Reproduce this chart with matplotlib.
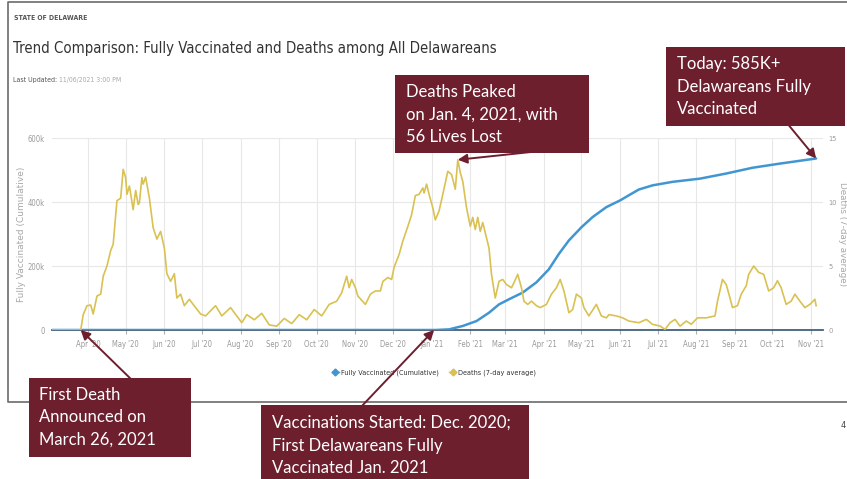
import matplotlib
matplotlib.use('Agg')
import matplotlib.pyplot as plt
import matplotlib.dates as mdates
from matplotlib.patches import Rectangle
from matplotlib.lines import Line2D
import pandas as pd

plt.rcParams['font.family'] = ['DejaVu Sans']
plt.rcParams['font.stretch'] = 'condensed'

# ---------------- data ----------------
death_dates = ['2020-03-03', '2020-03-26', '2020-03-28', '2020-03-31', '2020-04-03', '2020-04-05',
               '2020-04-08', '2020-04-11', '2020-04-13', '2020-04-16', '2020-04-19', '2020-04-21',
               '2020-04-24', '2020-04-27', '2020-04-29', '2020-05-01', '2020-05-02', '2020-05-04',
               '2020-05-07', '2020-05-09', '2020-05-11', '2020-05-12', '2020-05-14', '2020-05-15',
               '2020-05-17', '2020-05-20', '2020-05-23', '2020-05-26', '2020-05-29', '2020-06-01',
               '2020-06-03', '2020-06-06', '2020-06-09', '2020-06-11', '2020-06-14', '2020-06-17',
               '2020-06-21', '2020-06-26', '2020-06-30', '2020-07-04', '2020-07-12', '2020-07-17',
               '2020-07-24', '2020-08-02', '2020-08-06', '2020-08-12', '2020-08-18', '2020-08-24',
               '2020-08-30', '2020-09-05', '2020-09-11', '2020-09-17', '2020-09-23', '2020-09-29',
               '2020-10-05', '2020-10-11', '2020-10-17', '2020-10-21', '2020-10-25', '2020-10-27',
               '2020-10-29', '2020-11-01', '2020-11-03', '2020-11-09', '2020-11-13', '2020-11-17',
               '2020-11-21', '2020-11-23', '2020-11-27', '2020-11-30', '2020-12-02', '2020-12-06',
               '2020-12-09', '2020-12-13', '2020-12-16', '2020-12-19', '2020-12-22', '2020-12-25',
               '2020-12-26', '2020-12-28', '2020-12-30', '2021-01-02', '2021-01-04', '2021-01-07',
               '2021-01-10', '2021-01-14', '2021-01-17', '2021-01-20', '2021-01-22', '2021-01-24',
               '2021-01-26', '2021-01-29', '2021-02-01', '2021-02-03', '2021-02-05', '2021-02-07',
               '2021-02-09', '2021-02-11', '2021-02-14', '2021-02-16', '2021-02-18', '2021-02-21',
               '2021-02-24', '2021-02-27', '2021-03-02', '2021-03-06', '2021-03-08', '2021-03-11',
               '2021-03-14', '2021-03-16', '2021-03-19', '2021-03-22', '2021-03-26', '2021-03-29',
               '2021-04-03', '2021-04-07', '2021-04-11', '2021-04-14', '2021-04-17', '2021-04-21',
               '2021-04-24', '2021-04-27', '2021-05-01', '2021-05-03', '2021-05-07', '2021-05-13',
               '2021-05-17', '2021-05-21', '2021-05-23', '2021-05-29', '2021-06-03', '2021-06-08',
               '2021-06-16', '2021-06-22', '2021-06-27', '2021-07-03', '2021-07-07', '2021-07-11',
               '2021-07-15', '2021-07-19', '2021-07-24', '2021-07-28', '2021-08-02', '2021-08-09',
               '2021-08-16', '2021-08-18', '2021-08-22', '2021-08-25', '2021-08-28', '2021-08-30',
               '2021-09-03', '2021-09-06', '2021-09-10', '2021-09-12', '2021-09-16', '2021-09-20',
               '2021-09-24', '2021-09-28', '2021-10-02', '2021-10-05', '2021-10-08', '2021-10-12',
               '2021-10-16', '2021-10-19', '2021-10-23', '2021-10-27', '2021-10-31', '2021-11-04',
               '2021-11-05']
death_values = [0, 0, 1.2, 1.9, 1.95, 1.25,
                2.65, 2.8, 4.2, 5.0, 6.2, 6.7,
                10.1, 10.3, 12.55, 11.9, 10.6, 11.25,
                9.4, 10.9, 9.8, 9.95, 11.9, 11.4,
                11.95, 10.3, 8.0, 7.1, 7.7, 6.4,
                4.4, 3.8, 4.4, 2.5, 2.8, 1.9,
                2.4, 1.75, 1.25, 1.1, 1.9, 1.1,
                1.75, 0.57, 1.2, 0.8, 1.3, 0.4,
                0.3, 0.9, 0.5, 1.2, 0.8, 1.6,
                1.1, 2.0, 2.25, 2.9, 4.2, 3.3,
                3.95, 3.3, 2.65, 2.0, 2.8, 3.05,
                3.05, 3.8, 4.1, 3.95, 4.9, 5.9,
                6.95, 8.1, 9.0, 10.5, 10.6, 11.1,
                10.7, 11.4, 10.6, 9.55, 8.6, 9.3,
                10.6, 12.4, 12.15, 11.0, 13.3, 12.3,
                11.6, 9.55, 8.1, 8.8, 7.85, 8.8,
                7.7, 8.4, 7.2, 6.4, 4.35, 2.5,
                3.8, 3.95, 3.55, 3.3, 3.7, 4.35,
                3.3, 2.25, 2.0, 2.25, 1.9, 1.75,
                2.0, 2.8, 3.3, 3.95, 3.05, 1.35,
                1.6, 2.8, 2.5, 1.75, 1.1, 2.0,
                1.1, 0.95, 1.2, 1.1, 0.95, 0.7,
                0.57, 0.83, 0.44, 0.31, 0.05, 0.57,
                0.83, 0.3, 0.7, 0.45, 0.95, 0.95,
                1.1, 2.25, 3.95, 3.55, 2.5, 1.75,
                1.9, 2.8, 3.45, 4.35, 5.0, 4.5,
                4.35, 3.05, 3.3, 3.85, 3.3, 2.0,
                2.25, 2.8, 2.25, 1.75, 2.0, 2.4,
                1.9]

vacc_dates = ['2020-03-03', '2021-01-04', '2021-01-15', '2021-01-26', '2021-02-06', '2021-02-16',
              '2021-02-24', '2021-03-04', '2021-03-15', '2021-03-26', '2021-04-05', '2021-04-13',
              '2021-04-21', '2021-05-01', '2021-05-10', '2021-05-21', '2021-06-01', '2021-06-08',
              '2021-06-16', '2021-06-27', '2021-07-13', '2021-08-04', '2021-08-25', '2021-09-15',
              '2021-10-07', '2021-11-05']
vacc_values = [0, 0, 2000, 12600, 28000, 54000,
               80000, 96000, 117000, 149000, 190000, 238000,
               280000, 321000, 353000, 384000, 405000, 421000,
               439000, 452000, 463000, 473000, 489000, 507000,
               520000, 536000]

month_ticks = ['2020-04-01', '2020-05-01', '2020-06-01', '2020-07-01', '2020-08-01', '2020-09-01',
               '2020-10-01', '2020-11-01', '2020-12-01', '2021-01-01', '2021-02-01', '2021-03-01',
               '2021-04-01', '2021-05-01', '2021-06-01', '2021-07-01', '2021-08-01', '2021-09-01',
               '2021-10-01', '2021-11-01']
month_labels = ["Apr '20", "May '20", "Jun '20", "Jul '20", "Aug '20", "Sep '20",
                "Oct '20", "Nov '20", "Dec '20", "Jan '21", "Feb '21", "Mar '21",
                "Apr '21", "May '21", "Jun '21", "Jul '21", "Aug '21", "Sep '21",
                "Oct '21", "Nov '21"]
left_ticks = [0, 200000, 400000, 600000]
left_labels = ['0', '200k', '400k', '600k']
right_ticks = [0, 5, 10, 15]
right_labels = ['0', '5', '10', '15']

series_names = ['Fully Vaccinated (Cumulative)', 'Deaths (7-day average)']

# ---------------- style ----------------
W, H = 847, 479
BLUE = '#4196d2'
YELLOW = '#d9c152'
MAROON = '#6d1f2e'
TICKC = '#9a9a9a'

fig = plt.figure(figsize=(W / 100, H / 100), dpi=100)
fig.patch.set_facecolor('white')
renderer = fig.canvas.get_renderer()


def fit_width(txt, target_px):
    """Scale a text's font size so that it spans target_px pixels."""
    w = txt.get_window_extent(renderer=renderer).width
    if w > 0:
        txt.set_fontsize(txt.get_fontsize() * target_px / w)


ax = fig.add_axes([52 / W, 1 - 330 / H, 771 / W, 192 / H])
ax2 = ax.twinx()

vd = pd.to_datetime(vacc_dates)
dd = pd.to_datetime(death_dates)
ax.plot(vd, vacc_values, color=BLUE, lw=1.8, zorder=3, solid_capstyle='round')
ax2.plot(dd, death_values, color=YELLOW, lw=1.2, zorder=3)

ax.set_xlim(pd.Timestamp('2020-03-03'), pd.Timestamp('2021-11-10 12:00'))
ax.set_ylim(0, 600000)
ax2.set_ylim(0, 15)

ax.set_xticks(pd.to_datetime(month_ticks))
ax.set_xticklabels(month_labels)
ax.set_yticks(left_ticks)
ax.set_yticklabels(left_labels)
ax2.set_yticks(right_ticks)
ax2.set_yticklabels(right_labels)

ax.grid(True, color='#e8e8e8', lw=0.8)
ax.set_axisbelow(True)
for a in (ax, ax2):
    for s in ('top', 'left', 'right', 'bottom'):
        a.spines[s].set_visible(False)
ax.spines['bottom'].set_visible(True)
ax.spines['bottom'].set_color('#44607c')
ax.spines['bottom'].set_linewidth(1.3)

ax.tick_params(axis='x', length=3, width=0.8, color='#b0b0b0', pad=4,
               labelsize=5.5, labelcolor=TICKC)
ax.tick_params(axis='y', length=0, pad=5, labelsize=5.5, labelcolor=TICKC)
ax2.tick_params(axis='y', length=0, pad=4, labelsize=5.3, labelcolor=TICKC)

fig.text(22 / W, 1 - 234 / H, 'Fully Vaccinated (Cumulative)', rotation=90,
         ha='center', va='center', fontsize=6.5, color='#a8a8a8', fontstretch='normal')
fig.text(842.5 / W, 1 - 234 / H, 'Deaths (7-day average)', rotation=270,
         ha='center', va='center', fontsize=6.3, color='#a8a8a8', fontstretch='normal')

handles = [Line2D([0], [0], color=BLUE, marker='D', markersize=3.5, lw=1),
           Line2D([0], [0], color=YELLOW, marker='D', markersize=3.5, lw=1)]
leg = fig.legend(handles, series_names, loc='center', bbox_to_anchor=(434 / W, 1 - 373 / H),
                 ncol=2, frameon=False, fontsize=5.2, handlelength=1.0, handletextpad=0.3,
                 columnspacing=1.4)
for t in leg.get_texts():
    t.set_color('#333333')

# ---------------- header text ----------------
t_state = fig.text(14 / W, 1 - 18 / H, 'STATE OF DELAWARE', ha='left', va='center',
                   fontsize=6.5, fontweight='bold', color='#555555')
fit_width(t_state, 73)
t_title = fig.text(13 / W, 1 - 48 / H,
                   'Trend Comparison: Fully Vaccinated and Deaths among All Delawareans',
                   ha='left', va='center', fontsize=14, color='#333333')
fit_width(t_title, 487)
t_lu = fig.text(13 / W, 1 - 80 / H, 'Last Updated:', ha='left', va='center',
                fontsize=5.5, color='#555555')
fit_width(t_lu, 44)
t_date = fig.text(59 / W, 1 - 80 / H, '11/06/2021 3:00 PM', ha='left', va='center',
                  fontsize=5.5, color='#aaaaaa')
fit_width(t_date, 62)

# ---------------- overlay (frame, call-outs) ----------------
ov = fig.add_axes([0, 0, 1, 1], zorder=10)
ov.set_xlim(0, W)
ov.set_ylim(H, 0)
ov.axis('off')
ov.patch.set_alpha(0)

ov.plot([W, 8, 8, W], [2, 2, 402, 402], color='#6b6b6b', lw=1.2, zorder=1)

boxes = [
    ((395, 75, 194, 78), (406, 84), 'Deaths Peaked\non Jan. 4, 2021, with\n56 Lives Lost'),
    ((666, 47, 179, 79), (677, 56), 'Today: 585K+\nDelawareans Fully\nVaccinated'),
    ((29, 378, 162, 79), (39, 387), 'First Death\nAnnounced on\nMarch 26, 2021'),
    ((261, 405, 268, 80), (272, 415), 'Vaccinations Started: Dec. 2020;\nFirst Delawareans Fully\nVaccinated Jan. 2021'),
]
for (x0, y0, w, h), (tx, ty), txt in boxes:
    ov.add_patch(Rectangle((x0, y0), w, h, facecolor=MAROON, edgecolor='none', zorder=4))
    ov.text(tx, ty, txt, ha='left', va='top', color='white', fontsize=12,
            family=['Lato', 'DejaVu Sans'], fontstretch='normal', linespacing=1.5, zorder=5)

arrow_kw = dict(arrowstyle='-|>,head_length=0.55,head_width=0.28', color=MAROON,
                lw=1.4, shrinkA=0, shrinkB=0)
arrows = [
    (('2021-01-22', 13.3, ax2), (550, 150)),
    (('2021-11-05', 536000, ax), (782, 117)),
    (('2020-03-26', 0, ax2), (135, 383)),
    (('2021-01-03', 0, ax), (360, 408)),
]
for (dstr, val, a), tail in arrows:
    ov.annotate('', xy=(mdates.date2num(pd.Timestamp(dstr)), val), xycoords=a.transData,
                xytext=tail, textcoords='data', arrowprops=arrow_kw, zorder=3)

fig.text(843 / W, 1 - 425 / H, '4', ha='center', va='center', fontsize=6.5, color='#444444')

fig.savefig('out.png', dpi=100, facecolor='white')
